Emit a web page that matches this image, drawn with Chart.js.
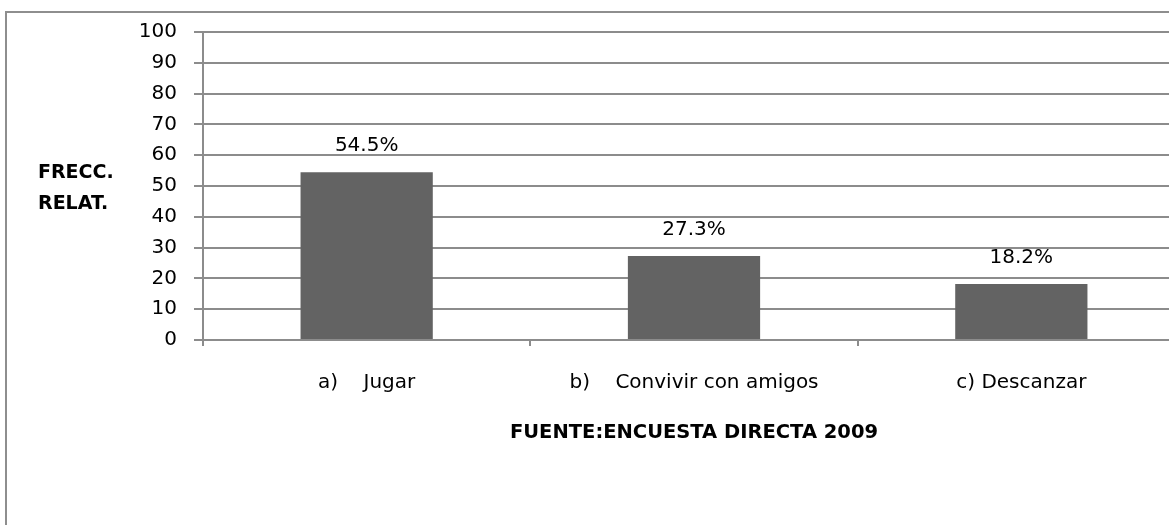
<!DOCTYPE html>
<html>
<head>
<meta charset="utf-8">
<script src="https://cdn.jsdelivr.net/npm/chart.js@4"></script>
<style>
  html, body { margin: 0; padding: 0; background: #fff; overflow: hidden; }
  #frame {
    position: absolute; left: 5px; top: 11px; width: 1300px; height: 600px;
    border-left: 2px solid #8e8e8e; border-top: 2px solid #8e8e8e;
  }
  #wrap { position: absolute; left: 0; top: 0; width: 1200px; height: 525px; }
</style>
</head>
<body>
<div id="frame"></div>
<div id="wrap"><canvas id="myChart"></canvas></div>
<script>
const categorias = ['a)    Jugar', 'b)    Convivir con amigos', 'c) Descanzar'];
const frecuencias = [54.5, 27.3, 18.2];
const etiquetas = ['54.5%', '27.3%', '18.2%'];
const tituloY = ['FRECC.', 'RELAT.'];
const tituloX = 'FUENTE:ENCUESTA DIRECTA 2009';

const fuente = '"DejaVu Sans", sans-serif';
const gris = '#8c8c8c';

// etiquetas encima de cada barra
const barLabels = {
  id: 'barLabels',
  afterDatasetsDraw(chart) {
    const ctx = chart.ctx;
    const meta = chart.getDatasetMeta(0);
    ctx.save();
    ctx.font = '20px ' + fuente;
    ctx.fillStyle = '#000';
    ctx.textAlign = 'center';
    ctx.textBaseline = 'middle';
    meta.data.forEach((bar, i) => {
      ctx.fillText(etiquetas[i], bar.x, bar.y - 26);
    });
    ctx.restore();
  }
};

// titulo del eje y, horizontal a la izquierda
const yTitle = {
  id: 'yTitle',
  afterDraw(chart) {
    const ctx = chart.ctx;
    ctx.save();
    ctx.font = 'bold 19px ' + fuente;
    ctx.fillStyle = '#000';
    ctx.textAlign = 'left';
    ctx.textBaseline = 'middle';
    ctx.fillText(tituloY[0], 38, 173);
    ctx.fillText(tituloY[1], 38, 204);
    ctx.restore();
  }
};

const myChart = new Chart(document.getElementById('myChart'), {
  type: 'bar',
  data: {
    labels: categorias,
    datasets: [{
      data: frecuencias,
      backgroundColor: '#636363',
      borderWidth: 0,
      categoryPercentage: 0.404,
      barPercentage: 1
    }]
  },
  options: {
    responsive: true,
    maintainAspectRatio: false,
    animation: false,
    layout: { padding: { top: 32, right: 15, bottom: 0, left: 0 } },
    plugins: { legend: { display: false }, tooltip: { enabled: false } },
    scales: {
      x: {
        offset: true,
        afterFit(scale) { scale.height = 185; },
        grid: { display: true, offset: true, drawOnChartArea: false, color: gris, lineWidth: 2, tickLength: 6 },
        border: { display: true, color: gris, width: 2 },
        ticks: { color: '#000', font: { family: fuente, size: 20 }, padding: 25, maxRotation: 0 },
        title: { display: true, text: tituloX, color: '#000', font: { family: fuente, size: 19.5, weight: 'bold' }, padding: { top: 0, bottom: 80 } }
      },
      y: {
        min: 0,
        max: 100,
        afterFit(scale) { scale.width = 203; },
        grid: { color: gris, lineWidth: 2, tickLength: 9 },
        border: { display: true, color: gris, width: 2 },
        ticks: { stepSize: 10, color: '#000', font: { family: fuente, size: 20 }, padding: 17 }
      }
    }
  },
  plugins: [barLabels, yTitle]
});
</script>
</body>
</html>
